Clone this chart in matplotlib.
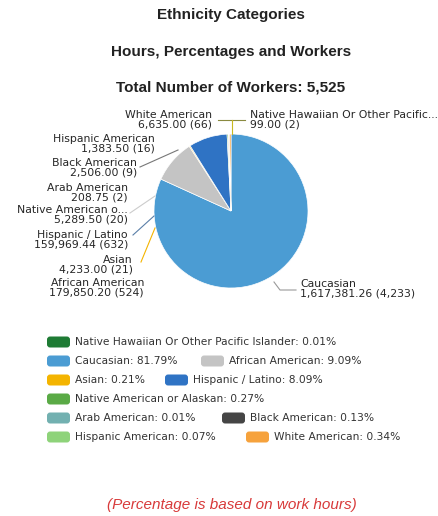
import matplotlib.pyplot as plt
from matplotlib.patches import FancyBboxPatch

# slice data, clockwise from the top
categories = ['Native Hawaiian Or Other Pacific Islander', 'Caucasian', 'African American',
              'Asian', 'Hispanic / Latino', 'Native American or Alaskan', 'Arab American',
              'Black American', 'Hispanic American', 'White American']
pie_names = ['Native Hawaiian Or Other Pacific...', 'Caucasian', 'African American',
             'Asian', 'Hispanic / Latino', 'Native American o...', 'Arab American',
             'Black American', 'Hispanic American', 'White American']
hours = [99.00, 1617381.26, 179850.20, 4233.00, 159969.44, 5289.50, 208.75,
         2506.00, 1383.50, 6635.00]
workers = [2, 4233, 524, 21, 632, 20, 2, 9, 16, 66]
colors = ['#1e7b34', '#4b9cd3', '#c4c4c4', '#f4b400', '#2f73c4', '#5aaa46',
          '#72b0b0', '#454545', '#8ed37a', '#f6a23c']

W, H = 438, 516
cx, cy, R = 231, 211, 77   # pie centre and radius in pixels


def P(x, y):
    # pixel position -> data coords of the full-figure axes
    return (x - cx) / R, (cy - y) / R


fig = plt.figure(figsize=(W / 100, H / 100), dpi=100)
ax = fig.add_axes([0, 0, 1, 1])
ax.pie(hours, colors=colors, startangle=90, counterclock=False, radius=1,
       wedgeprops=dict(edgecolor='white', linewidth=0.5))
ax.set_aspect('auto')
ax.set_xlim(-cx / R, (W - cx) / R)
ax.set_ylim(-(H - cy) / R, cy / R)
ax.axis('off')

title_font = dict(family='Liberation Sans', fontweight='bold', fontsize=11,
                  color='#222222', ha='center', va='center')
ax.text(*P(231, 15), 'Ethnicity Categories', **title_font)
ax.text(*P(231, 52), 'Hours, Percentages and Workers', **title_font)
ax.text(*P(231, 87), 'Total Number of Workers: 5,525', **title_font)

# data labels: (x, y centre, alignment) in pixels
label_pos = {0: (250, 120, 'left'), 1: (300, 289, 'left'), 2: (144, 288, 'right'),
             3: (133, 265, 'right'), 4: (128, 240, 'right'), 5: (128, 215, 'right'),
             6: (128, 193, 'right'), 7: (137, 168, 'right'), 8: (155, 144, 'right'),
             9: (212, 120, 'right')}
for i, (x, y, ha) in label_pos.items():
    txt = f"{pie_names[i]}\n{hours[i]:,.2f} ({workers[i]:,})"
    ax.text(*P(x, y), txt, ha=ha, va='center', fontsize=7.8, color='#262626',
            linespacing=0.92, family='DejaVu Sans')

# connector lines (pixel polylines)
connectors = [([218, 245], [120, 120], '#8a8a40'),
              ([232, 232], [120, 134], '#c8b820'),
              ([140, 178], [167, 150], '#777777'),
              ([130, 155], [213, 196], '#cccccc'),
              ([133, 154], [235, 216], '#5a7fa8'),
              ([141, 155], [262, 228], '#f4b400'),
              ([274, 280, 296], [282, 290, 290], '#999999')]
for xs, ys, c in connectors:
    pts = [P(x, y) for x, y in zip(xs, ys)]
    ax.plot([p[0] for p in pts], [p[1] for p in pts], color=c, lw=0.8)

# legend rows: (category index, swatch x) in pixels
total = sum(hours)
legend_rows = [[(0, 47)], [(1, 47), (2, 201)], [(3, 47), (4, 165)], [(5, 47)],
               [(6, 47), (7, 222)], [(8, 47), (9, 246)]]
row_y = [342, 361, 380, 399, 418, 437]
sw, sh = 23, 11
for row, y in zip(legend_rows, row_y):
    for i, x in row:
        x0, y0 = P(x, y + sh / 2)
        ax.add_patch(FancyBboxPatch((x0, y0), sw / R, sh / R,
                                    boxstyle='round,pad=0,rounding_size=0.04',
                                    facecolor=colors[i], edgecolor='none'))
        pct = hours[i] / total * 100
        ax.text(*P(x + sw + 5, y), f"{categories[i]}: {pct:.2f}%", ha='left',
                va='center', fontsize=7.7, color='#333333', family='DejaVu Sans')

ax.text(*P(232, 505), '(Percentage is based on work hours)', ha='center', va='center',
        fontsize=11, style='italic', color='#d83a3a', family='Liberation Sans')

fig.savefig('out.png', dpi=100)
